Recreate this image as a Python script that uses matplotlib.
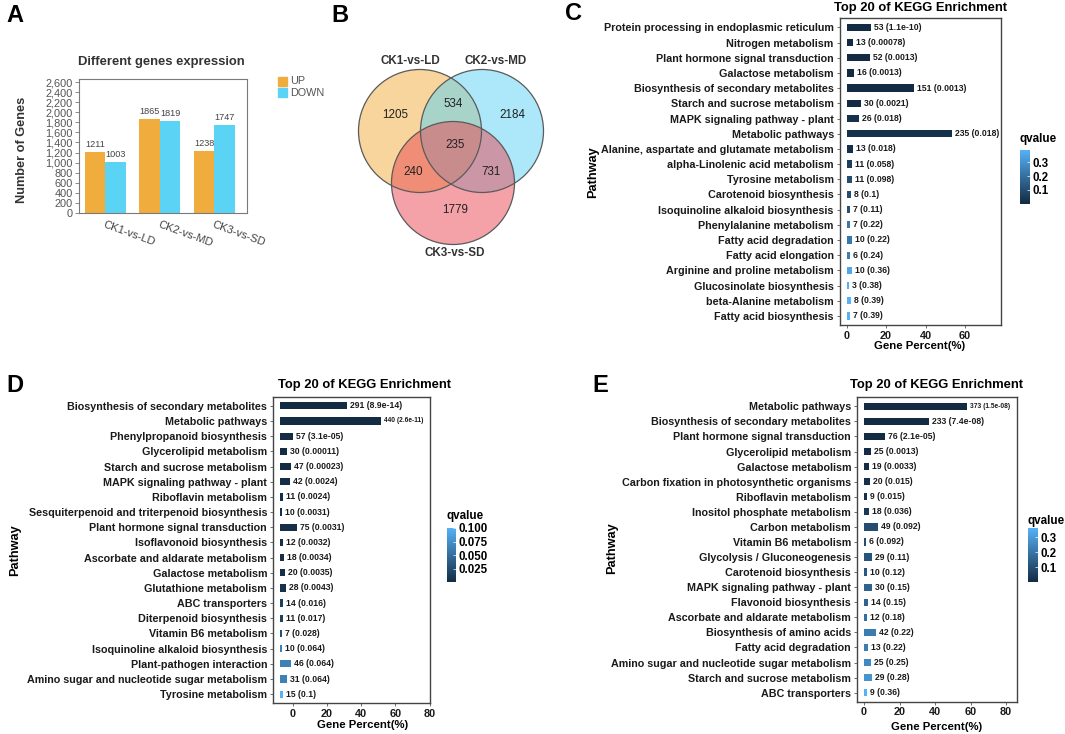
import numpy as np
import matplotlib
matplotlib.use('Agg')
import matplotlib.pyplot as plt
from matplotlib.patches import Circle, Rectangle
from matplotlib.colors import LinearSegmentedColormap, Normalize
import matplotlib.cm as cm
from matplotlib.transforms import offset_copy

plt.rcParams['font.family'] = ['Liberation Sans', 'DejaVu Sans']

# ---------------- data ----------------
groups = ['CK1-vs-LD', 'CK2-vs-MD', 'CK3-vs-SD']
up_counts = [1211, 1865, 1238]
down_counts = [1003, 1819, 1747]

venn_sets = ['CK1-vs-LD', 'CK2-vs-MD', 'CK3-vs-SD']
venn_only1, venn_only2, venn_only3 = 1205, 2184, 1779
venn_12, venn_13, venn_23, venn_123 = 534, 240, 731, 235

C_pathways = ['Protein processing in endoplasmic reticulum', 'Nitrogen metabolism',
              'Plant hormone signal transduction', 'Galactose metabolism',
              'Biosynthesis of secondary metabolites', 'Starch and sucrose metabolism',
              'MAPK signaling pathway - plant', 'Metabolic pathways',
              'Alanine, aspartate and glutamate metabolism', 'alpha-Linolenic acid metabolism',
              'Tyrosine metabolism', 'Carotenoid biosynthesis',
              'Isoquinoline alkaloid biosynthesis', 'Phenylalanine metabolism',
              'Fatty acid degradation', 'Fatty acid elongation',
              'Arginine and proline metabolism', 'Glucosinolate biosynthesis',
              'beta-Alanine metabolism', 'Fatty acid biosynthesis']
C_counts = [53, 13, 52, 16, 151, 30, 26, 235, 13, 11, 11, 8, 7, 7, 10, 6, 10, 3, 8, 7]
C_qvalue = [1.1e-10, 0.00078, 0.0013, 0.0013, 0.0013, 0.0021, 0.018, 0.018, 0.018, 0.058,
            0.098, 0.1, 0.11, 0.22, 0.22, 0.24, 0.36, 0.38, 0.39, 0.39]
C_total = 443

D_pathways = ['Biosynthesis of secondary metabolites', 'Metabolic pathways',
              'Phenylpropanoid biosynthesis', 'Glycerolipid metabolism',
              'Starch and sucrose metabolism', 'MAPK signaling pathway - plant',
              'Riboflavin metabolism', 'Sesquiterpenoid and triterpenoid biosynthesis',
              'Plant hormone signal transduction', 'Isoflavonoid biosynthesis',
              'Ascorbate and aldarate metabolism', 'Galactose metabolism',
              'Glutathione metabolism', 'ABC transporters', 'Diterpenoid biosynthesis',
              'Vitamin B6 metabolism', 'Isoquinoline alkaloid biosynthesis',
              'Plant-pathogen interaction', 'Amino sugar and nucleotide sugar metabolism',
              'Tyrosine metabolism']
D_counts = [291, 440, 57, 30, 47, 42, 11, 10, 75, 12, 18, 20, 28, 14, 11, 7, 10, 46, 31, 15]
D_qvalue = [8.9e-14, 2.6e-11, 3.1e-05, 0.00011, 0.00023, 0.0024, 0.0024, 0.0031, 0.0031, 0.0032,
            0.0034, 0.0035, 0.0043, 0.016, 0.017, 0.028, 0.064, 0.064, 0.064, 0.1]
D_total = 745

E_pathways = ['Metabolic pathways', 'Biosynthesis of secondary metabolites',
              'Plant hormone signal transduction', 'Glycerolipid metabolism',
              'Galactose metabolism', 'Carbon fixation in photosynthetic organisms',
              'Riboflavin metabolism', 'Inositol phosphate metabolism', 'Carbon metabolism',
              'Vitamin B6 metabolism', 'Glycolysis / Gluconeogenesis', 'Carotenoid biosynthesis',
              'MAPK signaling pathway - plant', 'Flavonoid biosynthesis',
              'Ascorbate and aldarate metabolism', 'Biosynthesis of amino acids',
              'Fatty acid degradation', 'Amino sugar and nucleotide sugar metabolism',
              'Starch and sucrose metabolism', 'ABC transporters']
E_counts = [373, 233, 76, 25, 19, 20, 9, 18, 49, 6, 29, 10, 30, 14, 12, 42, 13, 25, 29, 9]
E_qvalue = [1.5e-08, 7.4e-08, 2.1e-05, 0.0013, 0.0033, 0.015, 0.015, 0.036, 0.092, 0.092,
            0.11, 0.12, 0.15, 0.15, 0.18, 0.22, 0.22, 0.25, 0.28, 0.36]
E_total = 640

# ---------------- figure ----------------
W, H = 1065, 734
fig = plt.figure(figsize=(W / 100, H / 100), dpi=100)


def px_axes(l, t, r, b):
    return fig.add_axes([l / W, 1 - b / H, (r - l) / W, (b - t) / H])


def ftext(x, y, s, **kw):
    return fig.text(x / W, 1 - y / H, s, **kw)


# panel letters
for letter, (lx, ly) in zip('ABCDE', [(15, 16), (340, 15), (573, 13), (15, 385), (600, 385)]):
    ftext(lx, ly, letter, fontsize=17, fontweight='bold', ha='center', va='center')

# ---------------- Panel A ----------------
UPC, DNC = '#F0AC3C', '#5BD3F5'
axA = px_axes(79, 79, 247, 213)
x = np.arange(len(groups))
bw = 0.376
axA.bar(x - bw / 2, up_counts, bw, color=UPC)
axA.bar(x + bw / 2, down_counts, bw, color=DNC)
for xi, u, d in zip(x, up_counts, down_counts):
    axA.text(xi - bw / 2, u + 60, str(u), ha='center', va='bottom', fontsize=6.6, color='#444444')
    axA.text(xi + bw / 2, d + 60, str(d), ha='center', va='bottom', fontsize=6.6, color='#444444')
axA.set_ylim(0, 2660)
axA.set_xlim(-0.48, 2.6)
yt = list(range(0, 2601, 200))
axA.set_yticks(yt)
axA.set_yticklabels([f'{v:,}' for v in yt], fontsize=7.9, color='#555555')
axA.set_xticks(x)
axA.set_xticklabels(groups, rotation=-20, ha='left', va='top', rotation_mode='anchor',
                    fontsize=8, color='#444444')
axA.tick_params(axis='x', length=0, pad=5)
axA.tick_params(axis='y', length=3, width=0.6, color='#777777', pad=1.5)
for s in axA.spines.values():
    s.set_color('#7a7a7a')
    s.set_linewidth(0.8)
ftext(161, 62, 'Different genes expression', fontsize=9.4, fontweight='bold', ha='center',
      va='center', color='#333333')
ftext(22, 150, 'Number of Genes', fontsize=9.2, fontweight='bold', rotation=90, ha='center',
      va='center', color='#333333')
# legend
axL = px_axes(270, 70, 330, 105)
axL.set_xlim(270, 330)
axL.set_ylim(105, 70)
axL.axis('off')
axL.add_patch(Rectangle((278.3, 76.8), 9, 9, color=UPC))
axL.add_patch(Rectangle((278.3, 88.3), 9, 9, color=DNC))
axL.text(290, 81.5, 'UP', fontsize=7.8, va='center', color='#555555')
axL.text(290, 93, 'DOWN', fontsize=7.8, va='center', color='#555555')

# ---------------- Panel B ----------------
axB = px_axes(330, 40, 560, 270)
axB.set_xlim(330, 560)
axB.set_ylim(270, 40)
axB.axis('off')
circles = [((420, 131), '#F0AC3C'), ((482, 131), '#5BD3F5'), ((453, 183), '#EB4652')]
R = 61.5
for (c, col) in circles:
    axB.add_patch(Circle(c, R, facecolor=col, alpha=0.5, edgecolor='none'))
for (c, col) in circles:
    axB.add_patch(Circle(c, R, facecolor='none', edgecolor='#5a5a5a', lw=0.9))
venn_nums = [(395, 115, venn_only1), (452.7, 104.5, venn_12), (512, 115, venn_only2),
             (455, 145, venn_123), (413.5, 172.5, venn_13), (491, 172.5, venn_23),
             (455, 210.5, venn_only3)]
for vx, vy, v in venn_nums:
    axB.text(vx, vy, str(v), ha='center', va='center', fontsize=8.4, color='#222222')
for (lx, ly), name in zip([(410, 61), (496, 61), (455, 253.5)], venn_sets):
    axB.text(lx, ly, name, ha='center', va='center', fontsize=8.4, fontweight='bold',
             color='#333333')

# ---------------- KEGG panels ----------------
cmap = LinearSegmentedColormap.from_list('gg', ['#132B43', '#56B1F7'])
renderer = fig.canvas.get_renderer()


def kegg_panel(box, names, counts, qvals, total, base, xlim, xticks, title_xy, ylab_xy,
               xlab_xy, cbar_box, cbar_ticks, cbar_fmt, cbar_title_xy):
    ax = px_axes(*box)
    norm = Normalize(vmin=min(qvals), vmax=max(qvals))
    n = len(names)
    ypos = np.arange(n)
    pct = np.array(counts) / total * 100
    ax.barh(ypos, pct, left=base, height=0.48, color=[cmap(norm(q)) for q in qvals])
    ax.set_xlim(*xlim)
    ax.set_ylim(n - 1 + 0.6, -0.6)
    trans = offset_copy(ax.transData, fig=fig, x=3, y=0, units='dots')
    axbox = ax.get_window_extent(renderer)
    for yi, p, c, q in zip(ypos, pct, counts, qvals):
        t = ax.text(base + p, yi, f'{c} ({q:g})', transform=trans, va='center', ha='left',
                    fontsize=6.2, fontweight='bold', color='#1a1a1a')
        if t.get_window_extent(renderer).x1 > axbox.x1 - 1:
            t.set_fontsize(4.8)
    ax.set_yticks(ypos)
    ax.set_yticklabels(names, fontsize=7.75, fontweight='bold', color='#1a1a1a')
    ax.set_xticks(xticks)
    ax.set_xticklabels([str(v) for v in xticks], fontsize=7.8, fontweight='bold',
                       color='#1a1a1a')
    ax.tick_params(axis='y', length=2.5, width=0.6, color='#555555', pad=2)
    ax.tick_params(axis='x', length=2.5, width=0.6, color='#555555', pad=1.5)
    for s in ax.spines.values():
        s.set_color('#444444')
        s.set_linewidth(1.0)
    ftext(title_xy[0], title_xy[1], 'Top 20 of KEGG Enrichment', fontsize=9.4,
          fontweight='bold', ha='center', va='center')
    ftext(ylab_xy[0], ylab_xy[1], 'Pathway', fontsize=9.2, fontweight='bold', rotation=90,
          ha='center', va='center')
    ftext(xlab_xy[0], xlab_xy[1], 'Gene Percent(%)', fontsize=8.2, fontweight='bold',
          ha='center', va='center')
    cax = px_axes(*cbar_box)
    sm = cm.ScalarMappable(norm=norm, cmap=cmap)
    cb = fig.colorbar(sm, cax=cax)
    cb.outline.set_visible(False)
    cb.set_ticks(cbar_ticks)
    cb.set_ticklabels([cbar_fmt.format(v) for v in cbar_ticks])
    cax.tick_params(length=2.5, width=0.5, color='white', direction='in', pad=2,
                    labelsize=8.3)
    for lab in cax.get_yticklabels():
        lab.set_fontweight('bold')
    ftext(cbar_title_xy[0], cbar_title_xy[1], 'qvalue', fontsize=8.4, fontweight='bold',
          ha='left', va='center')
    return ax


kegg_panel((840, 18.3, 1001, 325), C_pathways, C_counts, C_qvalue, C_total, 0.3,
           (-3.4, 78.3), [0, 20, 40, 60], (920, 8.5), (593, 172), (920, 346),
           (1020, 150, 1030, 203.5), [0.1, 0.2, 0.3], '{:.1f}', (1019, 139))

kegg_panel((273.3, 396.7, 430, 703.3), D_pathways, D_counts, D_qvalue, D_total, -7.4,
           (-11.3, 80.2), [0, 20, 40, 60, 80], (364, 385.5), (15, 550), (363, 724.5),
           (447, 528, 456, 582), [0.025, 0.05, 0.075, 0.1], '{:.3f}', (446.5, 516))

kegg_panel((857.3, 397.3, 1016.7, 701.7), E_pathways, E_counts, E_qvalue, E_total, 0.0,
           (-3.8, 86), [0, 20, 40, 60, 80], (937, 385.5), (612, 548), (937, 727.5),
           (1028, 528, 1038, 582), [0.1, 0.2, 0.3], '{:.1f}', (1027, 521))

fig.savefig('out.png', dpi=100)
